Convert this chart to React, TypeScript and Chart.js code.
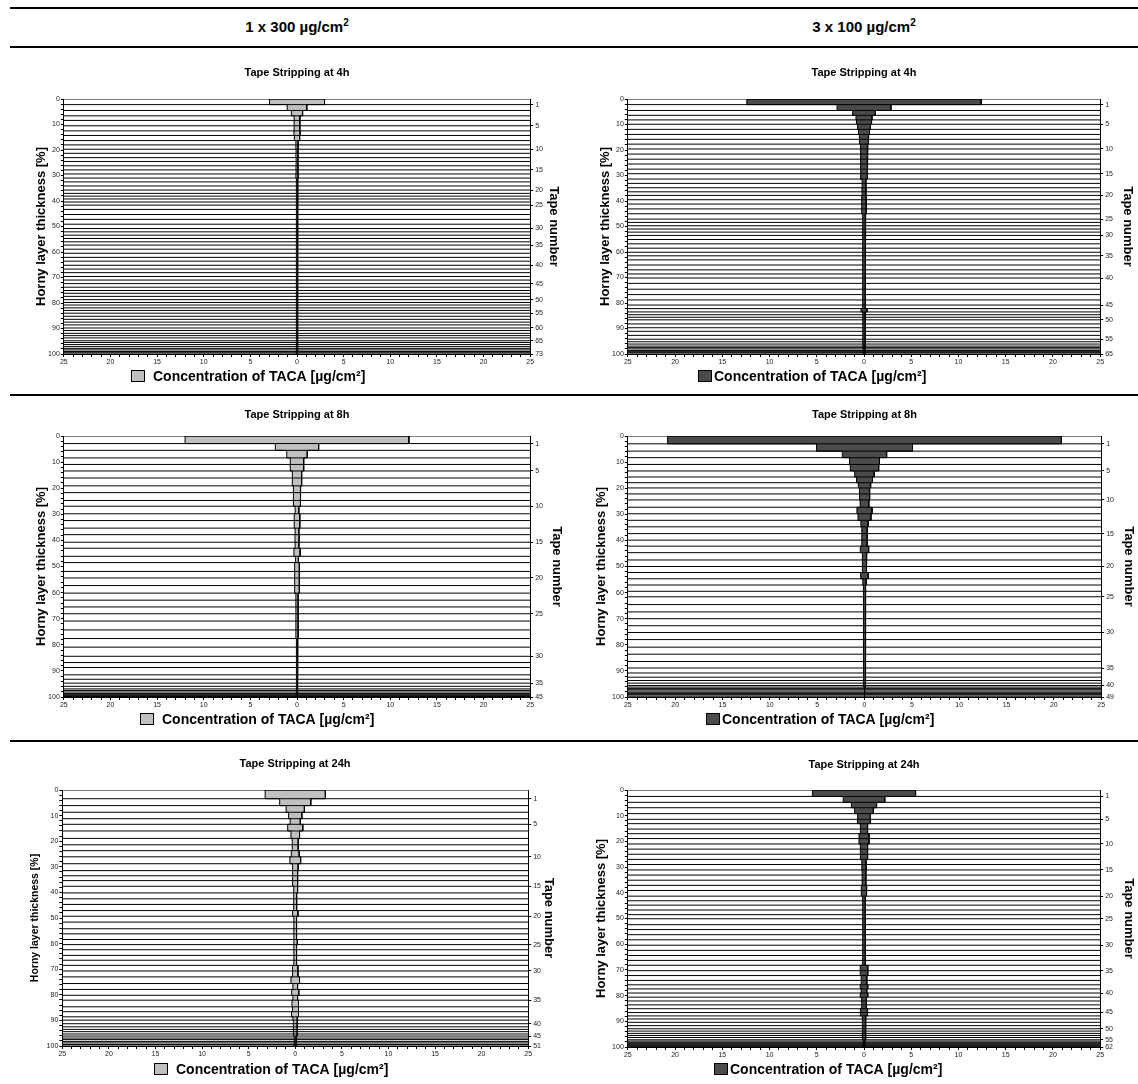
import React, { useEffect, useRef } from "react";
import { Chart, registerables } from "chart.js";

Chart.register(...registerables);

const FONT = "'Liberation Sans', Arial, Helvetica, sans-serif";
const LIGHT_FILL = "#c0c0c0";
const DARK_FILL = "#4b4b4b";
const LEGEND_TEXT = "Concentration of TACA [µg/cm²]";
const Y_TITLE = "Horny layer thickness [%]";
const Y2_TITLE = "Tape number";

// Cumulative horny layer depth [%] reached after each tape, and TACA amount per tape [µg/cm²]

// 1 x 300 µg/cm², 4 h
const depth300h4 = [
  2.2, 4.5, 6.6, 8.4, 10.5, 12.5, 14.3, 16.3, 18.0, 19.7,
  21.3, 23.0, 24.5, 26.2, 27.8, 29.4, 31.0, 32.5, 34.1, 35.7,
  37.0, 38.1, 39.2, 40.4, 41.6, 43.3, 45.3, 47.2, 49.1, 50.8,
  52.1, 53.4, 54.7, 56.0, 57.3, 58.9, 60.5, 62.1, 63.6, 65.2,
  66.7, 68.1, 69.6, 71.0, 72.4, 73.8, 75.1, 76.2, 77.4, 78.7,
  79.8, 80.8, 81.9, 82.9, 84.0, 85.2, 86.4, 87.5, 88.6, 89.8,
  90.8, 91.9, 92.8, 93.7, 94.8, 95.5, 96.3, 97.1, 97.8, 98.4,
  99.0, 99.5, 100,
];
const conc300h4 = [
  2.95, 1.05, 0.6, 0.32, 0.3, 0.3, 0.33, 0.28, 0.12, 0.12,
  0.1, 0.12, 0.1, 0.1, 0.11, 0.1, 0.12, 0.1, 0.09, 0.1,
  0.08, 0.09, 0.1, 0.08, 0.09, 0.08, 0.1, 0.08, 0.07, 0.08,
  0.07, 0.08, 0.07, 0.07, 0.08, 0.07, 0.06, 0.07, 0.06, 0.07,
  0.06, 0.07, 0.06, 0.06, 0.07, 0.06, 0.06, 0.06, 0.07, 0.06,
  0.06, 0.06, 0.06, 0.07, 0.06, 0.06, 0.05, 0.06, 0.06, 0.07,
  0.06, 0.05, 0.06, 0.05, 0.05, 0.06, 0.05, 0.05, 0.05, 0.05,
  0.05, 0.05, 0.05,
];
const tapes300h4 = [1, 5, 10, 15, 20, 25, 30, 35, 40, 45, 50, 55, 60, 65, 73];

// 3 x 100 µg/cm², 4 h
const depth100h4 = [
  2.2, 4.5, 6.4, 8.2, 9.9, 11.9, 13.9, 15.8, 17.7, 19.6,
  21.6, 23.6, 25.5, 27.5, 29.3, 31.4, 33.1, 34.8, 36.4, 37.8,
  39.5, 41.2, 43.1, 45.0, 47.1, 48.4, 49.7, 51.0, 52.2, 53.5,
  55.1, 56.8, 58.5, 60.1, 61.5, 63.1, 65.1, 67.0, 68.6, 70.2,
  72.3, 74.6, 76.7, 78.8, 80.8, 82.2, 83.5, 84.6, 85.6, 86.6,
  88.2, 89.7, 91.1, 92.7, 94.2, 95.2, 96.1, 96.9, 97.5, 98.0,
  98.6, 98.9, 99.2, 99.5, 100,
];
const conc100h4 = [
  12.4, 2.85, 1.2, 0.85, 0.8, 0.68, 0.58, 0.5, 0.45, 0.42,
  0.36, 0.33, 0.33, 0.33, 0.34, 0.42, 0.2, 0.2, 0.22, 0.2,
  0.22, 0.25, 0.28, 0.22, 0.18, 0.15, 0.15, 0.14, 0.15, 0.14,
  0.15, 0.14, 0.13, 0.15, 0.14, 0.13, 0.14, 0.13, 0.14, 0.13,
  0.14, 0.13, 0.14, 0.15, 0.16, 0.14, 0.32, 0.15, 0.14, 0.13,
  0.14, 0.13, 0.12, 0.13, 0.14, 0.12, 0.11, 0.12, 0.11, 0.1,
  0.1, 0.1, 0.1, 0.09, 0.09,
];
const tapes100h4 = [1, 5, 10, 15, 20, 25, 30, 35, 40, 45, 50, 55, 65];

// 1 x 300 µg/cm², 8 h
const depth300h8 = [
  2.9, 5.5, 8.4, 10.9, 13.4, 16.1, 19.1, 21.7, 24.7, 26.9,
  29.8, 32.4, 35.3, 37.8, 40.7, 43.0, 46.1, 48.5, 51.9, 54.4,
  57.3, 60.2, 62.9, 65.5, 68.1, 70.9, 74.3, 77.6, 80.9, 84.4,
  86.8, 88.7, 91.5, 93.2, 94.7, 95.9, 96.9, 97.5, 98.1, 98.7,
  99.1, 99.5, 99.7, 99.9, 100,
];
const conc300h8 = [
  12.0, 2.32, 1.1, 0.72, 0.72, 0.5, 0.5, 0.4, 0.4, 0.33,
  0.2, 0.3, 0.3, 0.2, 0.22, 0.2, 0.33, 0.15, 0.25, 0.25,
  0.25, 0.25, 0.12, 0.12, 0.12, 0.12, 0.12, 0.12, 0.1, 0.1,
  0.08, 0.08, 0.07, 0.07, 0.06, 0.06, 0.06, 0.06, 0.05, 0.05,
  0.05, 0.05, 0.05, 0.05, 0.05,
];
const tapes300h8 = [1, 5, 10, 15, 20, 25, 30, 35, 45];

// 3 x 100 µg/cm², 8 h
const depth100h8 = [
  3.0, 5.8, 8.3, 10.9, 13.4, 15.7, 17.9, 19.9, 22.2, 24.5,
  27.3, 29.8, 32.3, 34.8, 37.4, 39.9, 42.2, 44.7, 47.5, 50.0,
  52.3, 54.7, 57.1, 59.5, 61.6, 64.6, 67.4, 70.0, 72.7, 75.3,
  78.0, 80.9, 83.6, 86.4, 88.9, 90.8, 92.4, 93.7, 94.7, 95.6,
  96.2, 96.7, 97.2, 97.7, 98.2, 98.7, 99.1, 99.6, 100,
];
const conc100h8 = [
  20.8, 5.07, 2.34, 1.58, 1.5, 1.03, 0.84, 0.65, 0.5, 0.57,
  0.46, 0.8, 0.68, 0.38, 0.3, 0.28, 0.28, 0.44, 0.25, 0.2,
  0.2, 0.4, 0.18, 0.12, 0.12, 0.12, 0.12, 0.12, 0.12, 0.12,
  0.15, 0.15, 0.15, 0.15, 0.15, 0.06, 0.06, 0.06, 0.08, 0.06,
  0.06, 0.05, 0.05, 0.05, 0.05, 0.05, 0.05, 0.05, 0.05,
];
const tapes100h8 = [1, 5, 10, 15, 20, 25, 30, 35, 40, 49];

// 1 x 300 µg/cm², 24 h
const depth300h24 = [
  3.4, 6.1, 8.7, 11.2, 13.4, 16.0, 18.9, 21.4, 23.7, 26.1,
  28.8, 31.5, 33.5, 35.4, 37.6, 40.2, 42.5, 44.7, 47.1, 49.3,
  51.6, 54.2, 56.2, 58.4, 60.4, 62.4, 64.6, 66.5, 68.5, 70.7,
  73.0, 75.6, 77.9, 80.2, 82.1, 84.7, 86.6, 88.6, 89.9, 91.3,
  92.5, 93.5, 94.4, 95.3, 96.1, 96.9, 97.5, 98.2, 98.8, 99.4,
  100,
];
const conc300h24 = [
  3.23, 1.67, 0.98, 0.71, 0.54, 0.81, 0.46, 0.33, 0.31, 0.42,
  0.58, 0.31, 0.27, 0.27, 0.27, 0.2, 0.15, 0.15, 0.15, 0.29,
  0.14, 0.14, 0.14, 0.14, 0.22, 0.14, 0.14, 0.14, 0.14, 0.29,
  0.29, 0.46, 0.25, 0.38, 0.25, 0.35, 0.3, 0.4, 0.25, 0.2,
  0.2, 0.2, 0.2, 0.2, 0.2, 0.1, 0.1, 0.1, 0.1, 0.1,
  0.1,
];
const tapes300h24 = [1, 5, 10, 15, 20, 25, 30, 35, 40, 45, 51];

// 3 x 100 µg/cm², 24 h
const depth100h24 = [
  2.5, 4.8, 6.9, 9.2, 11.4, 13.1, 15.2, 17.0, 18.9, 21.0,
  23.0, 25.0, 27.0, 29.0, 31.1, 33.1, 35.1, 37.1, 39.1, 41.3,
  43.1, 44.8, 46.7, 48.5, 50.1, 52.4, 54.3, 56.3, 58.3, 60.4,
  62.4, 64.4, 66.3, 68.2, 70.3, 72.2, 74.1, 75.8, 77.4, 79.0,
  80.6, 82.1, 83.6, 85.1, 86.6, 87.9, 89.1, 90.4, 91.7, 92.9,
  93.8, 94.7, 95.5, 96.3, 97.2, 97.7, 98.2, 98.7, 99.1, 99.5,
  99.7, 100,
];
const conc100h24 = [
  5.46, 2.2, 1.33, 0.99, 0.68, 0.68, 0.38, 0.38, 0.53, 0.53,
  0.38, 0.38, 0.38, 0.23, 0.23, 0.2, 0.2, 0.2, 0.3, 0.25,
  0.15, 0.15, 0.15, 0.15, 0.15, 0.14, 0.14, 0.14, 0.14, 0.14,
  0.14, 0.14, 0.14, 0.14, 0.4, 0.4, 0.3, 0.3, 0.4, 0.3,
  0.4, 0.25, 0.25, 0.25, 0.4, 0.35, 0.2, 0.2, 0.2, 0.2,
  0.15, 0.15, 0.15, 0.15, 0.15, 0.08, 0.08, 0.08, 0.08, 0.08,
  0.08, 0.08,
];
const tapes100h24 = [1, 5, 10, 15, 20, 25, 30, 35, 40, 45, 50, 55, 62];

type Pt = { x: number; y: number | null };

// Symmetric stepped outline: right edge going down, left edge coming back up.
function buildOutline(depth: number[], conc: number[]): Pt[] {
  const pts: Pt[] = [];
  for (let i = 0; i < depth.length; i++) {
    const top = i === 0 ? 0 : depth[i - 1];
    pts.push({ x: conc[i], y: top }, { x: conc[i], y: depth[i] });
  }
  for (let i = depth.length - 1; i >= 0; i--) {
    const top = i === 0 ? 0 : depth[i - 1];
    pts.push({ x: -conc[i], y: depth[i] }, { x: -conc[i], y: top });
  }
  pts.push({ x: conc[0], y: 0 });
  return pts;
}

// One full-width rule per tape boundary, separated by gaps.
function buildBoundaries(depth: number[]): Pt[] {
  const pts: Pt[] = [];
  [0, ...depth].forEach((b) => {
    pts.push({ x: -25, y: b }, { x: 25, y: b }, { x: 0, y: null });
  });
  return pts;
}

type PanelSpec = {
  title: string;
  depth: number[];
  conc: number[];
  tapes: number[];
  fill: string;
  plot: [number, number, number, number]; // x0, x1, y0, y1 on the page
  yTitleX: number;
  y2TitleX: number;
  yTitleSize: number;
  titleY: number;
  legendX: number;
  legendY: number;
  legendGap: number;
};

const X_AXIS_H = 14;

function TapePanel({ spec }: { spec: PanelSpec }) {
  const ref = useRef<HTMLCanvasElement>(null);
  const [x0, x1, y0, y1] = spec.plot;
  const lhL = spec.yTitleSize * 1.2;
  const lhR = 13 * 1.2;
  const wL = x0 - (spec.yTitleX - lhL / 2);
  const wR = spec.y2TitleX + lhR / 2 - x1;
  const left = Math.round(x0 - wL);
  const right = Math.round(x1 + wR);
  const top = spec.titleY - 12;
  const bottom = spec.legendY + 10;
  const width = right - left;
  const height = bottom - top;

  useEffect(() => {
    const canvas = ref.current;
    if (!canvas) return;

    const panelText = {
      id: "panelText",
      afterDraw(chart: any) {
        const ctx = chart.ctx as CanvasRenderingContext2D;
        ctx.save();
        ctx.fillStyle = "#000";
        ctx.textAlign = "center";
        ctx.textBaseline = "middle";
        ctx.font = `bold 11px ${FONT}`;
        ctx.fillText(spec.title, (x0 + x1) / 2 - left, spec.titleY - top);
        const bx = spec.legendX - left;
        const by = spec.legendY - top;
        ctx.fillStyle = spec.fill;
        ctx.fillRect(bx, by - 6, 14, 12);
        ctx.strokeStyle = "#000";
        ctx.lineWidth = 1;
        ctx.strokeRect(bx + 0.5, by - 5.5, 13, 11);
        ctx.fillStyle = "#000";
        ctx.textAlign = "left";
        ctx.font = `bold 14px ${FONT}`;
        ctx.fillText(LEGEND_TEXT, bx + 14 + spec.legendGap, by + 1);
        ctx.restore();
      },
    };

    const tickFont = { family: FONT, size: 7 };
    const axisBorder = { display: true, color: "#000", width: 1 };

    const chart = new Chart(canvas, {
      type: "scatter",
      data: {
        datasets: [
          {
            label: "boundaries",
            data: buildBoundaries(spec.depth) as any,
            showLine: true,
            borderColor: "#000",
            borderWidth: 1,
            pointRadius: 0,
            pointHoverRadius: 0,
            spanGaps: false,
            fill: false,
          },
          {
            label: LEGEND_TEXT,
            data: buildOutline(spec.depth, spec.conc) as any,
            showLine: true,
            borderColor: "#000",
            borderWidth: 1,
            backgroundColor: spec.fill,
            fill: "shape",
            pointRadius: 0,
            pointHoverRadius: 0,
            tension: 0,
          },
        ],
      },
      options: {
        responsive: false,
        maintainAspectRatio: false,
        animation: false,
        events: [],
        layout: {
          padding: {
            top: y0 - top,
            bottom: bottom - y1 - X_AXIS_H,
            left: 0,
            right: 0,
          },
        },
        plugins: {
          legend: { display: false },
          title: { display: false },
          tooltip: { enabled: false },
        },
        scales: {
          x: {
            type: "linear",
            position: "bottom",
            min: -25,
            max: 25,
            afterFit: (s: any) => {
              s.height = X_AXIS_H;
            },
            ticks: {
              stepSize: 1,
              autoSkip: false,
              maxRotation: 0,
              padding: 1,
              font: tickFont,
              color: "#222",
              callback: (v: any) => {
                const r = Math.round(Number(v));
                return r % 5 === 0 ? String(Math.abs(r)) : "";
              },
            },
            grid: { drawOnChartArea: false, drawTicks: true, tickLength: 3, color: "#000" },
            border: axisBorder,
          },
          y: {
            type: "linear",
            position: "left",
            reverse: true,
            min: 0,
            max: 100,
            afterFit: (s: any) => {
              s.width = wL;
            },
            ticks: {
              stepSize: 2,
              autoSkip: false,
              padding: 1,
              font: tickFont,
              color: "#222",
              callback: (v: any) => {
                const r = Math.round(Number(v));
                return r % 10 === 0 ? String(r) : "";
              },
            },
            grid: { drawOnChartArea: false, drawTicks: true, tickLength: 3, color: "#000" },
            border: axisBorder,
            title: {
              display: true,
              text: Y_TITLE,
              color: "#000",
              padding: 0,
              font: { family: FONT, size: spec.yTitleSize, weight: "bold" },
            },
          },
          y2: {
            type: "linear",
            position: "right",
            reverse: true,
            min: 0,
            max: 100,
            afterFit: (s: any) => {
              s.width = wR;
            },
            afterBuildTicks: (s: any) => {
              s.ticks = spec.tapes.map((n) => ({ value: spec.depth[n - 1] }));
            },
            ticks: {
              autoSkip: false,
              padding: 2,
              font: tickFont,
              color: "#222",
              callback: (_v: any, i: number) => String(spec.tapes[i]),
            },
            grid: { drawOnChartArea: false, drawTicks: true, tickLength: 3, color: "#000" },
            border: axisBorder,
            title: {
              display: true,
              text: Y2_TITLE,
              color: "#000",
              padding: 0,
              font: { family: FONT, size: 13, weight: "bold" },
            },
          },
        },
      } as any,
      plugins: [panelText],
    });

    return () => chart.destroy();
  }, []);

  return (
    <canvas
      ref={ref}
      width={width}
      height={height}
      style={{ position: "absolute", left, top, width, height }}
    />
  );
}

const panels: PanelSpec[] = [
  {
    title: "Tape Stripping at 4h", depth: depth300h4, conc: conc300h4, tapes: tapes300h4, fill: LIGHT_FILL,
    plot: [64, 530, 99, 354], yTitleX: 42, y2TitleX: 553, yTitleSize: 13, titleY: 73,
    legendX: 131, legendY: 376, legendGap: 8,
  },
  {
    title: "Tape Stripping at 4h", depth: depth100h4, conc: conc100h4, tapes: tapes100h4, fill: DARK_FILL,
    plot: [628, 1100, 99, 354], yTitleX: 606, y2TitleX: 1127, yTitleSize: 13, titleY: 73,
    legendX: 698, legendY: 376, legendGap: 2,
  },
  {
    title: "Tape Stripping at 8h", depth: depth300h8, conc: conc300h8, tapes: tapes300h8, fill: LIGHT_FILL,
    plot: [64, 530, 436, 697], yTitleX: 42, y2TitleX: 556, yTitleSize: 13, titleY: 415,
    legendX: 140, legendY: 719, legendGap: 8,
  },
  {
    title: "Tape Stripping at 8h", depth: depth100h8, conc: conc100h8, tapes: tapes100h8, fill: DARK_FILL,
    plot: [628, 1101, 436, 697], yTitleX: 602, y2TitleX: 1128, yTitleSize: 13, titleY: 415,
    legendX: 706, legendY: 719, legendGap: 2,
  },
  {
    title: "Tape Stripping at 24h", depth: depth300h24, conc: conc300h24, tapes: tapes300h24, fill: LIGHT_FILL,
    plot: [62, 528, 790, 1046], yTitleX: 35, y2TitleX: 548, yTitleSize: 10.5, titleY: 764,
    legendX: 154, legendY: 1069, legendGap: 8,
  },
  {
    title: "Tape Stripping at 24h", depth: depth100h24, conc: conc100h24, tapes: tapes100h24, fill: DARK_FILL,
    plot: [628, 1100, 790, 1047], yTitleX: 602, y2TitleX: 1128, yTitleSize: 13, titleY: 765,
    legendX: 714, legendY: 1069, legendGap: 2,
  },
];

const rule = (y: number): React.CSSProperties => ({
  position: "absolute",
  left: 10,
  top: y,
  width: 1128,
  height: 2,
  background: "#000",
});

const header = (cx: number): React.CSSProperties => ({
  position: "absolute",
  left: cx - 150,
  width: 300,
  top: 17,
  textAlign: "center",
  fontFamily: FONT,
  fontWeight: "bold",
  fontSize: 15,
  lineHeight: "20px",
  color: "#000",
});

export default function App() {
  return (
    <div
      style={{
        position: "absolute",
        left: 0,
        top: 0,
        width: 1138,
        height: 1084,
        background: "#fff",
        overflow: "hidden",
      }}
    >
      <div style={rule(7)} />
      <div style={header(297)}>
        1 x 300 µg/cm<sup style={{ fontSize: 10, verticalAlign: "6px", lineHeight: 0 }}>2</sup>
      </div>
      <div style={header(864)}>
        3 x 100 µg/cm<sup style={{ fontSize: 10, verticalAlign: "6px", lineHeight: 0 }}>2</sup>
      </div>
      <div style={rule(46)} />
      <div style={rule(394)} />
      <div style={rule(740)} />
      {panels.map((p, i) => (
        <TapePanel key={i} spec={p} />
      ))}
    </div>
  );
}
